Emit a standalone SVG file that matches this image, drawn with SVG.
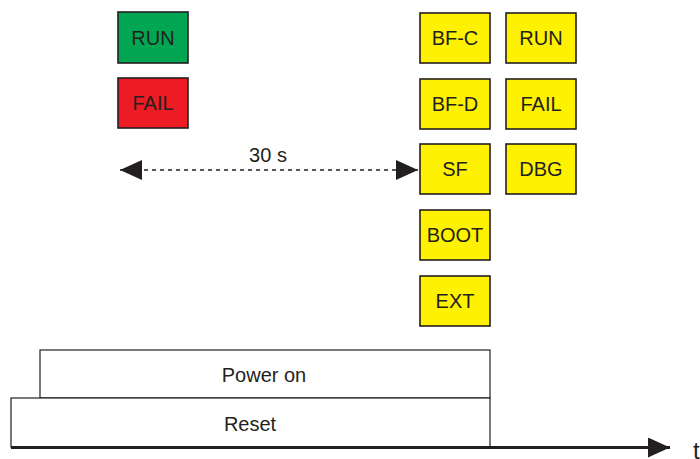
<svg xmlns="http://www.w3.org/2000/svg" width="700" height="459" viewBox="0 0 700 459">
<defs>
<style>
.box{stroke:#231f20;stroke-width:1.6}
.y{fill:#fff200}
.lbl{font-family:"Liberation Sans",Arial,sans-serif;font-size:20px;fill:#231f20;text-anchor:middle}
.bar{fill:#fff;stroke:#231f20;stroke-width:1.2}
</style>
<marker id="ah" viewBox="0 0 22 20" refX="22" refY="10" markerWidth="22" markerHeight="20" markerUnits="userSpaceOnUse" orient="auto-start-reverse">
<path d="M0,0 L22,10 L0,20 Z" fill="#231f20"/>
</marker>
</defs>
<g id="run-green"><rect class="box" x="118" y="12" width="70" height="51" fill="#00a651"/><text class="lbl" x="153" y="45">RUN</text></g>
<g id="fail-red"><rect class="box" x="118" y="78" width="70" height="50" fill="#ed1c24"/><text class="lbl" x="153" y="110">FAIL</text></g>
<g id="bfc"><rect class="box y" x="420" y="13" width="70" height="50"/><text class="lbl" x="455" y="45">BF-C</text></g>
<g id="bfd"><rect class="box y" x="420" y="79" width="70" height="50"/><text class="lbl" x="455" y="111">BF-D</text></g>
<g id="sf"><rect class="box y" x="420" y="144" width="70" height="50"/><text class="lbl" x="455" y="176">SF</text></g>
<g id="boot"><rect class="box y" x="420" y="210" width="70" height="50"/><text class="lbl" x="455" y="242">BOOT</text></g>
<g id="ext"><rect class="box y" x="420" y="276" width="70" height="50"/><text class="lbl" x="455" y="308">EXT</text></g>
<g id="run-yellow"><rect class="box y" x="506" y="13" width="70" height="50"/><text class="lbl" x="541" y="45">RUN</text></g>
<g id="fail-yellow"><rect class="box y" x="506" y="79" width="70" height="50"/><text class="lbl" x="541" y="111">FAIL</text></g>
<g id="dbg"><rect class="box y" x="506" y="144" width="70" height="50"/><text class="lbl" x="541" y="176">DBG</text></g>
<g id="power-on"><rect class="bar" x="40" y="350" width="450" height="48"/><text class="lbl" x="264" y="382">Power on</text></g>
<g id="reset"><rect class="bar" x="11" y="398" width="479" height="49"/><text class="lbl" x="250" y="431">Reset</text></g>
<g id="connectors">
<line x1="120" y1="170" x2="418" y2="170" stroke="#231f20" stroke-width="1.5" stroke-dasharray="4,4" marker-start="url(#ah)" marker-end="url(#ah)"/>
<text class="lbl" x="268" y="162">30 s</text>
<line x1="11" y1="447.5" x2="670" y2="447.5" stroke="#231f20" stroke-width="3" marker-end="url(#ah)"/>
<text x="693" y="459" style="font-family:'Liberation Sans',Arial,sans-serif;font-size:24px;fill:#231f20">t</text>
</g>
</svg>
